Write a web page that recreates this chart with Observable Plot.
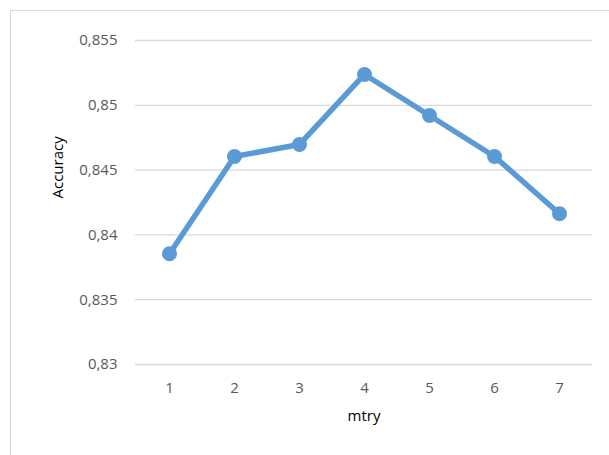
<!DOCTYPE html>
<html>
<head>
<meta charset="utf-8">
<script src="https://cdn.jsdelivr.net/npm/d3@7"></script>
<script src="https://cdn.jsdelivr.net/npm/@observablehq/plot@0.6"></script>
<style>
  html, body { margin: 0; padding: 0; background: #fff; }
  #wrap { position: relative; width: 609px; height: 455px; overflow: hidden; }
  #border { position: absolute; left: 10px; top: 10px; width: 640px; height: 480px;
            border: 1px solid #d9d9d9; box-sizing: border-box; pointer-events: none; }
  #wrap svg { position: absolute; left: 0; top: 0; }
</style>
</head>
<body>
<div id="wrap"><div id="border"></div></div>
<script>
// Random forest tuning: accuracy for each value of mtry
const mtry = [1, 2, 3, 4, 5, 6, 7];
const accuracy = [0.83854, 0.84605, 0.84698, 0.85238, 0.84921, 0.84605, 0.84163];
const yTicks = [0.83, 0.835, 0.84, 0.845, 0.85, 0.855];

const data = mtry.map((m, i) => ({mtry: m, accuracy: accuracy[i]}));

const commaFormat = d3.formatLocale({decimal: ",", thousands: " ", grouping: [3], currency: ["", ""]}).format(".3~f");

const font = "'Open Sans', 'Noto Sans', sans-serif";
const blue = "#5b9bd5";

const chart = Plot.plot({
  width: 609,
  height: 455,
  marginLeft: 135,
  marginRight: 17,
  marginTop: 40,
  marginBottom: 91,
  style: {fontFamily: font, fontSize: "15px", color: "#595959", background: "white"},
  x: {type: "point", domain: mtry, padding: 0.5, label: null},
  y: {domain: [0.83, 0.855], label: null},
  marks: [
    Plot.gridY(yTicks, {stroke: "#d9d9d9", strokeOpacity: 1, strokeWidth: 1.3}),
    Plot.axisY(yTicks, {tickSize: 0, tickPadding: 18, tickFormat: commaFormat, fill: "#595959", fontSize: 15, label: null}),
    Plot.axisX(mtry, {tickSize: 0, tickPadding: 18, fill: "#595959", fontSize: 15, label: null}),
    Plot.line(data, {x: "mtry", y: "accuracy", stroke: blue, strokeWidth: 5.5, strokeLinejoin: "round"}),
    Plot.dot(data, {x: "mtry", y: "accuracy", r: 7.5, fill: blue, stroke: null}),
    Plot.text(["Accuracy"], {frameAnchor: "left", dx: -77, dy: -4, rotate: -90, fill: "#000", fontSize: 15}),
    Plot.text(["mtry"], {frameAnchor: "bottom", dy: 56, fill: "#000", fontSize: 15})
  ]
});

document.getElementById("wrap").prepend(chart);
</script>
</body>
</html>
